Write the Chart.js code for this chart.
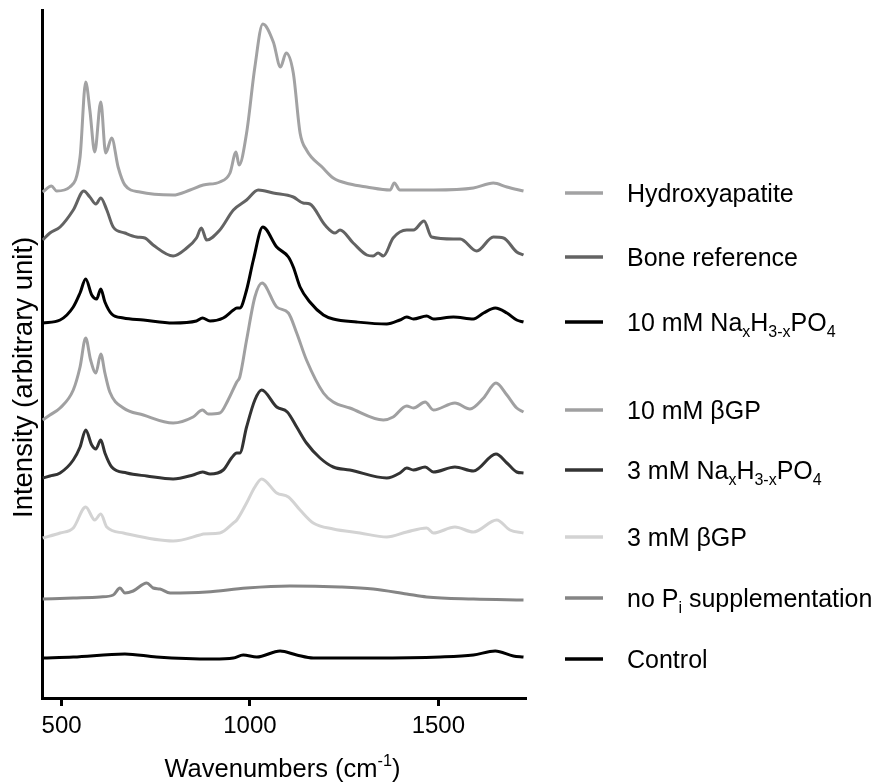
<!DOCTYPE html>
<html>
<head>
<meta charset="utf-8">
<script src="https://cdn.jsdelivr.net/npm/chart.js@4.4.1/dist/chart.umd.min.js"></script>
<style>
  html, body { margin: 0; background: #fff; }
  #wrap { width: 880px; height: 784px; }
</style>
</head>
<body>
<div id="wrap"><canvas id="ramanChart" width="880" height="784"></canvas></div>
<script>
// Raman spectra, stacked (intensity in arbitrary units incl. vertical offset)
const tickValues = [500, 1000, 1500];

const wnHap  = [450,473,487,522,549,564,575,588,604,617,633,650,668,708,796,841,876,920,947,963,971,991,1013,1034,1062,1081,1096,1115,1133,1150,1194,1221,1265,1310,1372,1383,1398,1487,1593,1646,1682,1726];
const intHap = [506,512,507,511,541,616,588,546,596,545,560,531,513,506,503,508,513,516,525,546,533,565,631,674,656,631,645,625,565,548,530,520,514,511,508,515,508,508,510,515,511,507];

const wnBone  = [450,469,496,531,559,575,591,604,620,637,668,699,721,743,796,832,858,871,885,920,956,991,1022,1062,1115,1141,1159,1199,1226,1239,1274,1310,1327,1340,1354,1380,1416,1434,1462,1482,1540,1558,1602,1646,1673,1708,1726];
const intBone = [458,465,471,488,507,501,494,500,488,471,465,461,460,453,442,450,460,470,458,468,488,498,508,505,501,495,494,473,465,468,455,443,442,445,442,460,468,468,477,461,459,459,447,461,460,446,443];

const wnNa10  = [450,496,531,549,564,580,593,604,615,633,664,717,796,858,874,894,929,956,965,973,991,1009,1034,1071,1102,1115,1133,1159,1195,1221,1283,1363,1398,1416,1434,1469,1487,1540,1593,1620,1651,1682,1708,1726];
const intNa10 = [375,378,391,405,419,403,399,409,396,384,380,378,375,377,380,377,380,388,390,390,408,438,471,451,441,431,411,396,383,379,376,374,378,381,379,382,379,381,379,385,390,385,378,376];

const wnGp10  = [450,469,496,531,549,564,577,591,604,615,628,664,717,796,849,874,889,920,942,965,973,991,1013,1032,1071,1102,1124,1150,1195,1221,1265,1354,1380,1416,1434,1465,1487,1544,1584,1620,1653,1682,1708,1726];
const intGp10 = [278,283,290,308,331,360,338,325,344,325,306,290,283,275,281,288,284,285,298,316,321,358,401,415,391,385,365,338,305,296,290,278,281,292,290,296,288,295,289,300,315,303,290,286];

const wnNa3  = [450,469,496,531,549,564,580,591,604,615,633,673,726,796,849,874,894,929,951,965,973,991,1013,1031,1071,1099,1124,1150,1186,1221,1265,1363,1398,1416,1434,1465,1487,1544,1593,1653,1682,1708,1726];
const intNa3 = [220,222,225,238,251,268,253,249,258,245,231,225,222,219,223,226,224,228,240,245,245,271,298,308,291,286,271,255,240,231,228,220,225,230,228,231,226,231,227,244,235,226,225];

const wnGp3  = [450,496,531,564,588,604,620,664,796,867,876,920,956,965,991,1013,1031,1071,1102,1133,1168,1221,1292,1363,1416,1469,1487,1544,1593,1655,1690,1726];
const intGp3 = [160,165,170,191,178,184,171,165,157,163,164,165,175,178,195,211,219,205,201,188,175,169,165,161,166,170,165,171,166,178,168,165];

const wnNoPi  = [450,531,602,637,655,668,690,726,743,761,788,885,991,1106,1239,1327,1416,1469,1593,1726];
const intNoPi = [99,100,101,103,110,105,107,115,110,109,105,106,110,112,111,109,104,101,99,98];

const wnCtrl  = [450,531,668,752,902,956,982,1018,1080,1124,1168,1327,1505,1593,1651,1699,1726];
const intCtrl = [40,41,44,41,39,40,43,41,47,43,40,40,41,43,47,42,41];

// _{..} = subscript, ^{..} = superscript
const seriesLabels = [
  'Hydroxyapatite',
  'Bone reference',
  '10 mM Na_{x}H_{3-x}PO_{4}',
  '10 mM βGP',
  '3 mM Na_{x}H_{3-x}PO_{4}',
  '3 mM βGP',
  'no P_{i} supplementation',
  'Control'
];
const seriesColors = ['#a2a2a3', '#636363', '#000000', '#a0a0a1', '#333333', '#d3d3d3', '#858585', '#000000'];
const seriesX = [wnHap, wnBone, wnNa10, wnGp10, wnNa3, wnGp3, wnNoPi, wnCtrl];
const seriesY = [intHap, intBone, intNa10, intGp10, intNa3, intGp3, intNoPi, intCtrl];

const FONT = '"Liberation Sans", Arial, sans-serif';

function drawRich(ctx, text, x, y, size, align) {
  const parts = [];
  const re = /([_^])\{([^}]*)\}/g;
  let last = 0, m;
  while ((m = re.exec(text)) !== null) {
    if (m.index > last) parts.push({ t: text.slice(last, m.index), mode: '' });
    parts.push({ t: m[2], mode: m[1] });
    last = re.lastIndex;
  }
  if (last < text.length) parts.push({ t: text.slice(last), mode: '' });

  let total = 0;
  parts.forEach(p => {
    p.size = p.mode ? size * 0.64 : size;
    p.dy = p.mode === '_' ? size * 0.24 : (p.mode === '^' ? -size * 0.42 : 0);
    ctx.font = p.size + 'px ' + FONT;
    p.w = ctx.measureText(p.t).width;
    total += p.w;
  });
  let cx = align === 'center' ? x - total / 2 : x;
  ctx.textAlign = 'left';
  ctx.textBaseline = 'alphabetic';
  parts.forEach(p => {
    ctx.font = p.size + 'px ' + FONT;
    ctx.fillText(p.t, cx, y + p.dy);
    cx += p.w;
  });
}

const sideLegend = {
  id: 'sideLegend',
  afterDraw(chart, args, opts) {
    const ctx = chart.ctx;
    const area = chart.chartArea;
    ctx.save();
    ctx.fillStyle = '#000';
    opts.rows.forEach((ry, i) => {
      ctx.beginPath();
      ctx.strokeStyle = seriesColors[i];
      ctx.lineWidth = 3.5;
      ctx.moveTo(565, ry);
      ctx.lineTo(603, ry);
      ctx.stroke();
      drawRich(ctx, seriesLabels[i], 627, ry + 8.8, 25, 'left');
    });
    // axis titles
    drawRich(ctx, 'Wavenumbers (cm^{-1})', (area.left + area.right) / 2 - 1, 777, 25.5, 'center');
    ctx.translate(31.5, 518);
    ctx.rotate(-Math.PI / 2);
    drawRich(ctx, 'Intensity (arbitrary unit)', 0, 0, 27.5, 'left');
    ctx.restore();
  }
};

new Chart(document.getElementById('ramanChart'), {
  type: 'line',
  data: {
    datasets: seriesLabels.map((lab, i) => ({
      label: lab.replace(/[_^]\{([^}]*)\}/g, '$1'),
      data: seriesX[i].map((w, j) => ({ x: w, y: seriesY[i][j] })),
      borderColor: seriesColors[i],
      borderWidth: 3,
      pointRadius: 0,
      cubicInterpolationMode: 'monotone',
      fill: false
    }))
  },
  options: {
    responsive: false,
    animation: false,
    layout: { padding: { top: 10, right: 355, bottom: 0, left: 0 } },
    plugins: {
      legend: { display: false },
      tooltip: { enabled: false },
      sideLegend: { rows: [193, 257, 322, 410, 470, 537, 598, 659] }
    },
    scales: {
      x: {
        type: 'linear',
        min: 448,
        max: 1730,
        afterFit: s => { s.height = 86; },
        afterBuildTicks: s => { s.ticks = tickValues.map(v => ({ value: v })); },
        ticks: { color: '#000', font: { family: FONT, size: 24 }, padding: 6, maxRotation: 0, callback: v => String(v) },
        grid: { display: true, drawOnChartArea: false, drawTicks: true, tickLength: 8, color: '#000', lineWidth: 3 },
        border: { display: true, color: '#000', width: 3 }
      },
      y: {
        min: 0,
        max: 688,
        afterFit: s => { s.width = 42; },
        ticks: { display: false },
        grid: { display: false },
        border: { display: true, color: '#000', width: 3 }
      }
    }
  },
  plugins: [sideLegend]
});
</script>
</body>
</html>
